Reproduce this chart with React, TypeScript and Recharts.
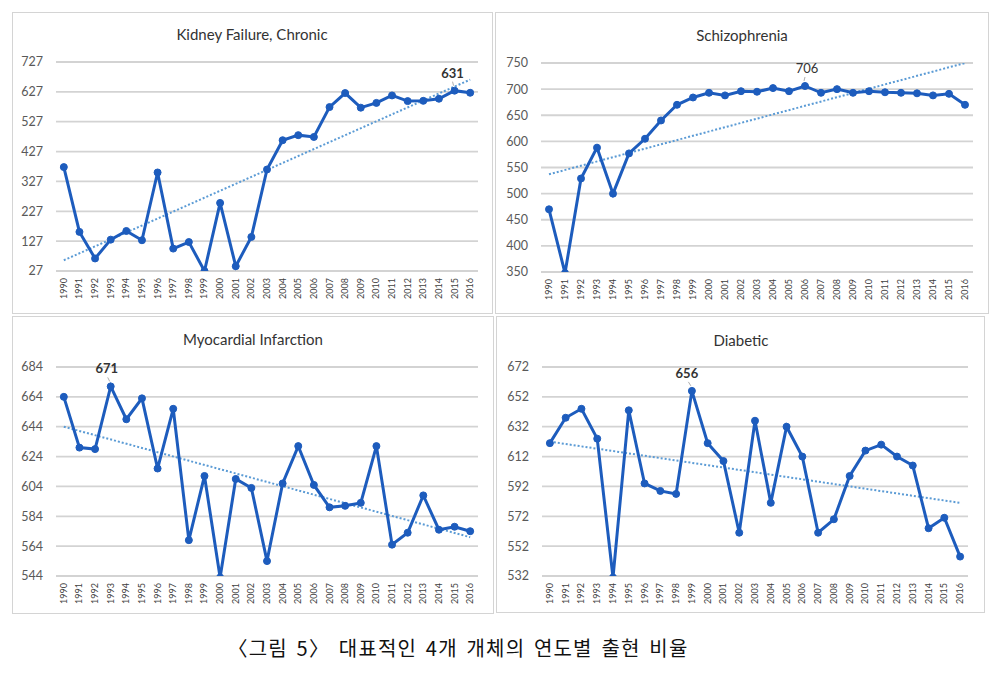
import React from "react"
import { LineChart, Line, XAxis, YAxis, CartesianGrid } from "recharts"

const years = [
  "1990", "1991", "1992", "1993", "1994", "1995", "1996", "1997", "1998", "1999",
  "2000", "2001", "2002", "2003", "2004", "2005", "2006", "2007", "2008", "2009",
  "2010", "2011", "2012", "2013", "2014", "2015", "2016",
]

const kidneyValues = [
  375, 158, 69, 132, 161, 130, 357, 102, 124, 27, 255, 43, 141, 367, 465, 482, 476,
  576, 623, 574, 590, 615, 596, 597, 604, 631, 624,
]
const kidneyTrend = [63, 668]
const kidneyTicks = [27, 127, 227, 327, 427, 527, 627, 727]

const schizoValues = [
  470, 348, 529, 588, 500, 577, 605, 640, 670, 684, 693, 688, 696, 695, 702, 696, 706,
  693, 700, 693, 696, 694, 693, 692, 688, 691, 670,
]
const schizoTrend = [537, 750]
const schizoTicks = [350, 400, 450, 500, 550, 600, 650, 700, 750]

const myoValues = [
  664, 630, 629, 671, 649, 663, 616, 656, 568, 611, 543, 609, 603, 554, 606, 631, 605,
  590, 591, 593, 631, 565, 573, 598, 575, 577, 574,
]
const myoTrend = [644, 570]
const myoTicks = [544, 564, 584, 604, 624, 644, 664, 684]

const diabValues = [
  621, 638, 644, 624, 531, 643, 594, 589, 587, 656, 621, 609, 561, 636, 581, 632, 612,
  561, 570, 599, 616, 620, 612, 606, 564, 571, 545,
]
const diabTrend = [622, 581]
const diabTicks = [532, 552, 572, 592, 612, 632, 652, 672]

const FONT = "Lato, 'Open Sans', sans-serif"
const LINE = "#1d5cbd"
const TREND = "#5b9bd5"

type Rect = { l: number; t: number; r: number; b: number }

const panels = [
  {
    title: "Kidney Failure, Chronic", values: kidneyValues, trend: kidneyTrend, ticks: kidneyTicks,
    box: { l: 12, t: 12, r: 493, b: 314 }, plot: { l: 56, t: 62, r: 478, b: 271 },
    titleX: 252, titleY: 34, peakBold: true, labelDx: -2,
  },
  {
    title: "Schizophrenia", values: schizoValues, trend: schizoTrend, ticks: schizoTicks,
    box: { l: 495, t: 12, r: 989, b: 314 }, plot: { l: 541, t: 63, r: 973, b: 272 },
    titleX: 742, titleY: 35, peakBold: false, labelDx: 2,
  },
  {
    title: "Myocardial Infarction", values: myoValues, trend: myoTrend, ticks: myoTicks,
    box: { l: 12, t: 316, r: 494, b: 614 }, plot: { l: 56, t: 367, r: 478, b: 576 },
    titleX: 253, titleY: 339, peakBold: true, labelDx: -4,
  },
  {
    title: "Diabetic", values: diabValues, trend: diabTrend, ticks: diabTicks,
    box: { l: 496, t: 316, r: 985, b: 613 }, plot: { l: 542, t: 367, r: 968, b: 576 },
    titleX: 741, titleY: 340, peakBold: true, labelDx: -5,
  },
]

const YAXIS_W = 36
const XAXIS_H = 35

function YearTick(props: any) {
  const { x, y, payload } = props
  return (
    <text
      x={x}
      y={y}
      transform={`rotate(-90 ${x} ${y})`}
      textAnchor="end"
      dy={3}
      fontSize={9}
      fill="#404040"
      fontFamily={FONT}
    >
      {payload.value}
    </text>
  )
}

function Panel({ p }: { p: (typeof panels)[number] }) {
  const box: Rect = p.box
  const plot: Rect = p.plot
  const W = box.r - box.l
  const H = box.b - box.t
  const last = years.length - 1
  const peak = p.values.indexOf(Math.max(...p.values))
  const data = years.map((year, i) => ({
    year,
    v: p.values[i],
    t: i === 0 ? p.trend[0] : i === last ? p.trend[1] : null,
  }))
  const pad = (plot.r - plot.l) / 54
  const min = p.ticks[0]
  const max = p.ticks[p.ticks.length - 1]

  const peakLabel = (lp: any) => {
    if (lp.index !== peak) return null
    const { x, y, value } = lp
    return (
      <g key="peak">
        <line x1={x - 1} y1={y - 5} x2={x + p.labelDx * 0.5 - 1} y2={y - 9} stroke="#999" strokeWidth={0.8} />
        <text
          x={x + p.labelDx}
          y={y - 13}
          textAnchor="middle"
          fontSize={13}
          fontWeight={p.peakBold ? 700 : 400}
          fill="#333"
          fontFamily={FONT}
        >
          {value}
        </text>
      </g>
    )
  }

  return (
    <>
      <div
        style={{
          position: "absolute",
          left: box.l,
          top: box.t,
          width: W,
          height: H,
          boxSizing: "border-box",
          border: "1px solid #d4d4d4",
        }}
      />
      <div
        style={{
          position: "absolute",
          left: p.titleX - 150,
          top: p.titleY - 10,
          width: 300,
          textAlign: "center",
          fontFamily: FONT,
          fontSize: 15,
          lineHeight: "20px",
          color: "#333",
        }}
      >
        {p.title}
      </div>
      <div style={{ position: "absolute", left: box.l, top: box.t }}>
        <LineChart
          width={W}
          height={H}
          data={data}
          margin={{
            left: plot.l - box.l - YAXIS_W,
            right: box.r - plot.r,
            top: plot.t - box.t,
            bottom: H - (plot.b - box.t) - XAXIS_H,
          }}
        >
          <CartesianGrid horizontal vertical={false} stroke="#d3d3d3" strokeWidth={1.8} />
          <XAxis
            dataKey="year"
            interval={0}
            tickLine={false}
            axisLine={false}
            height={XAXIS_H}
            padding={{ left: pad, right: pad }}
            tickSize={0}
            tickMargin={7}
            tick={<YearTick />}
          />
          <YAxis
            width={YAXIS_W}
            domain={[min, max]}
            ticks={p.ticks}
            interval={0}
            allowDataOverflow
            tickLine={false}
            axisLine={false}
            tickSize={0}
            tickMargin={13}
            tick={{ fill: "#595959", fontSize: 12.5, fontFamily: FONT }}
          />
          <Line
            dataKey="t"
            stroke={TREND}
            strokeWidth={2}
            strokeDasharray="2 2"
            dot={false}
            connectNulls
            isAnimationActive={false}
          />
          <Line
            dataKey="v"
            stroke={LINE}
            strokeWidth={3}
            dot={{ r: 3.5, fill: LINE, stroke: LINE, strokeWidth: 1 }}
            label={peakLabel}
            isAnimationActive={false}
          />
        </LineChart>
      </div>
    </>
  )
}

export default function App() {
  return (
    <div
      style={{
        position: "absolute",
        left: 0,
        top: 0,
        width: 1001,
        height: 679,
        background: "#fff",
        overflow: "hidden",
      }}
    >
      {panels.map((p) => (
        <Panel key={p.title} p={p} />
      ))}
      <div
        style={{
          position: "absolute",
          left: 0,
          top: 634,
          width: 916,
          textAlign: "center",
          fontFamily: "'Noto Sans CJK KR', sans-serif",
          fontSize: 20,
          lineHeight: "28px",
          color: "#111",
          letterSpacing: 1.2,
          wordSpacing: 3,
        }}
      >
        〈그림 5〉 대표적인 4개 개체의 연도별 출현 비율
      </div>
    </div>
  )
}
